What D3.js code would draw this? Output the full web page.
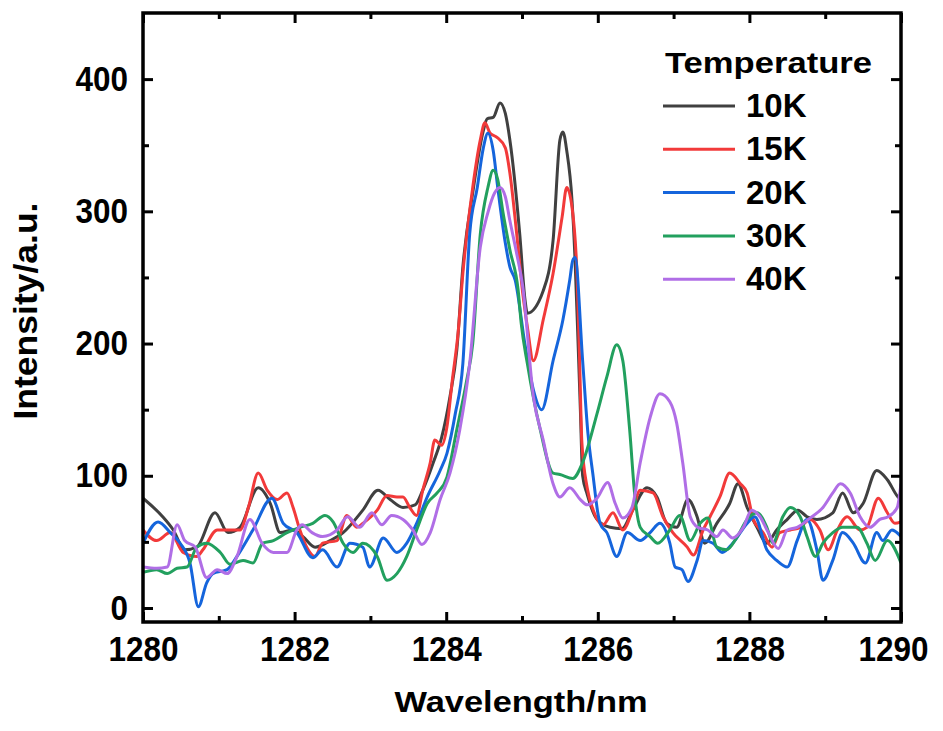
<!DOCTYPE html>
<html>
<head>
<meta charset="utf-8">
<script src="https://cdn.jsdelivr.net/npm/d3@7"></script>
<style>
  body { margin: 0; background: #fff; }
  svg text { font-family: "Liberation Sans", Arial, sans-serif; font-weight: bold; fill: #000; }
</style>
</head>
<body>
<div id="chart"></div>
<script>
// spectra: [wavelength nm, intensity a.u.]
const t10K = [[1280.00,83],[1280.26,69],[1280.40,59],[1280.55,44],[1280.71,46],[1280.95,72],[1281.12,57],[1281.28,61],[1281.52,91],[1281.68,79],[1281.81,57],[1281.98,59],[1282.11,54],[1282.27,46],[1282.47,51],[1282.64,57],[1282.90,74],[1283.10,89],[1283.26,82],[1283.43,76],[1283.59,78],[1283.69,89],[1283.83,110],[1283.94,129],[1284.05,160],[1284.14,195],[1284.22,258],[1284.35,314],[1284.49,361],[1284.54,370],[1284.62,371],[1284.71,382],[1284.78,374],[1284.84,354],[1284.97,283],[1285.04,233],[1285.07,223],[1285.28,240],[1285.41,278],[1285.50,354],[1285.54,360],[1285.59,346],[1285.66,308],[1285.70,263],[1285.74,200],[1285.77,150],[1285.80,100],[1285.86,86],[1285.99,67],[1286.16,61],[1286.32,60],[1286.46,74],[1286.65,91],[1286.78,84],[1286.91,64],[1287.04,61],[1287.19,82],[1287.31,69],[1287.41,49],[1287.57,64],[1287.74,79],[1287.85,94],[1287.97,76],[1288.10,61],[1288.23,49],[1288.36,59],[1288.50,67],[1288.64,74],[1288.76,69],[1288.89,67],[1289.10,72],[1289.23,87],[1289.37,72],[1289.50,79],[1289.68,104],[1289.82,97],[1289.96,84],[1290.00,82]];

const t15K = [[1280.00,59],[1280.18,51],[1280.36,57],[1280.53,42],[1280.71,39],[1280.79,44],[1280.98,59],[1281.15,59],[1281.28,59],[1281.39,76],[1281.52,102],[1281.64,89],[1281.77,82],[1281.90,87],[1281.98,76],[1282.07,59],[1282.16,46],[1282.27,39],[1282.37,49],[1282.56,51],[1282.69,70],[1282.82,61],[1282.90,64],[1283.09,74],[1283.22,85],[1283.35,84],[1283.43,84],[1283.52,76],[1283.61,70],[1283.69,89],[1283.79,110],[1283.85,127],[1283.94,123],[1284.01,137],[1284.08,172],[1284.16,210],[1284.22,253],[1284.35,318],[1284.45,354],[1284.51,367],[1284.58,359],[1284.67,356],[1284.78,348],[1284.84,329],[1284.93,283],[1285.01,238],[1285.07,213],[1285.15,187],[1285.28,218],[1285.41,253],[1285.53,296],[1285.59,318],[1285.66,303],[1285.73,246],[1285.76,187],[1285.79,125],[1285.86,91],[1285.94,74],[1286.07,63],[1286.20,72],[1286.33,59],[1286.46,74],[1286.56,89],[1286.73,87],[1286.86,69],[1286.99,57],[1287.18,46],[1287.26,40],[1287.39,59],[1287.48,69],[1287.61,84],[1287.74,102],[1287.88,94],[1287.97,87],[1288.05,67],[1288.18,57],[1288.30,46],[1288.40,57],[1288.54,59],[1288.67,61],[1288.80,67],[1288.93,59],[1289.04,44],[1289.16,59],[1289.29,69],[1289.46,59],[1289.55,61],[1289.70,83],[1289.82,72],[1289.92,64],[1290.00,65]];

const t20K = [[1280.00,49],[1280.20,65],[1280.36,57],[1280.49,49],[1280.62,34],[1280.73,1],[1280.84,19],[1280.92,26],[1281.11,29],[1281.24,39],[1281.45,59],[1281.70,83],[1281.85,64],[1282.03,57],[1282.24,38],[1282.37,44],[1282.56,31],[1282.73,49],[1282.90,46],[1282.99,31],[1283.17,53],[1283.35,42],[1283.48,49],[1283.61,64],[1283.75,84],[1283.92,104],[1284.01,117],[1284.12,147],[1284.22,185],[1284.31,283],[1284.41,318],[1284.49,348],[1284.55,359],[1284.62,346],[1284.68,318],[1284.78,276],[1284.84,258],[1284.91,248],[1285.04,199],[1285.15,165],[1285.26,150],[1285.41,187],[1285.54,218],[1285.63,248],[1285.67,263],[1285.70,265],[1285.80,187],[1285.87,132],[1285.94,99],[1286.00,72],[1286.03,64],[1286.12,57],[1286.25,39],[1286.39,57],[1286.56,51],[1286.69,57],[1286.82,64],[1286.95,49],[1287.02,31],[1287.11,29],[1287.19,20],[1287.31,36],[1287.39,51],[1287.52,49],[1287.64,42],[1287.78,49],[1287.97,64],[1288.07,69],[1288.23,44],[1288.36,36],[1288.50,31],[1288.63,51],[1288.76,67],[1288.89,44],[1288.97,21],[1289.10,36],[1289.23,57],[1289.37,49],[1289.53,34],[1289.68,57],[1289.76,51],[1289.88,59],[1290.00,54]];

const t30K = [[1280.00,27],[1280.18,29],[1280.32,26],[1280.45,30],[1280.58,31],[1280.71,46],[1280.84,49],[1281.02,42],[1281.15,33],[1281.32,36],[1281.45,34],[1281.58,49],[1281.72,51],[1281.90,57],[1282.07,61],[1282.24,64],[1282.40,70],[1282.51,65],[1282.64,49],[1282.77,42],[1282.90,49],[1283.09,39],[1283.22,21],[1283.35,26],[1283.48,39],[1283.61,59],[1283.75,79],[1283.88,87],[1284.01,99],[1284.14,135],[1284.27,172],[1284.35,200],[1284.45,283],[1284.55,318],[1284.62,331],[1284.68,324],[1284.75,299],[1284.84,271],[1284.95,240],[1284.99,215],[1285.07,185],[1285.24,135],[1285.41,102],[1285.50,101],[1285.67,98],[1285.80,110],[1285.99,147],[1286.12,175],[1286.25,199],[1286.33,187],[1286.42,135],[1286.49,84],[1286.56,61],[1286.69,54],[1286.79,49],[1286.95,59],[1287.08,70],[1287.22,51],[1287.35,64],[1287.45,68],[1287.57,46],[1287.70,44],[1287.84,54],[1287.97,67],[1288.10,72],[1288.23,61],[1288.31,49],[1288.44,69],[1288.54,76],[1288.67,69],[1288.76,54],[1288.87,39],[1288.97,49],[1289.10,57],[1289.23,61],[1289.42,61],[1289.55,49],[1289.66,36],[1289.82,51],[1290.00,34]];

const t40K = [[1280.00,31],[1280.18,30],[1280.32,31],[1280.45,63],[1280.55,51],[1280.69,46],[1280.84,23],[1280.98,29],[1281.11,26],[1281.24,39],[1281.41,67],[1281.57,49],[1281.72,42],[1281.90,42],[1282.03,59],[1282.10,63],[1282.23,57],[1282.37,54],[1282.56,59],[1282.70,69],[1282.86,61],[1283.02,72],[1283.15,63],[1283.28,70],[1283.43,67],[1283.56,59],[1283.68,48],[1283.79,57],[1283.92,82],[1284.05,102],[1284.18,135],[1284.31,185],[1284.45,273],[1284.55,299],[1284.64,314],[1284.71,318],[1284.78,311],[1284.84,293],[1284.93,268],[1285.01,243],[1285.15,160],[1285.28,127],[1285.41,94],[1285.50,84],[1285.63,91],[1285.77,82],[1285.86,78],[1285.99,83],[1286.13,95],[1286.23,79],[1286.33,68],[1286.45,76],[1286.56,110],[1286.69,144],[1286.82,162],[1286.95,156],[1287.04,140],[1287.12,110],[1287.22,69],[1287.32,61],[1287.45,59],[1287.57,54],[1287.65,59],[1287.78,53],[1287.92,61],[1288.03,74],[1288.14,69],[1288.25,57],[1288.38,45],[1288.50,59],[1288.63,61],[1288.80,68],[1288.97,76],[1289.10,87],[1289.20,94],[1289.33,87],[1289.46,69],[1289.59,61],[1289.72,67],[1289.83,69],[1289.95,76],[1290.00,94]];

const temps = ["10K", "15K", "20K", "30K", "40K"];
const spectra = [t10K, t15K, t20K, t30K, t40K];
const colors = ["#404040", "#f23a3a", "#1565dc", "#22a05e", "#b06ee6"];

const xMajor = [1280, 1282, 1284, 1286, 1288, 1290];
const xMinor = [1281, 1283, 1285, 1287, 1289];
const yMajor = [0, 100, 200, 300, 400];
const yMinor = [50, 150, 250, 350];

const width = 943, height = 731;
const plotL = 143, plotR = 901, plotT = 13, plotB = 622;

const svg = d3.select("#chart").append("svg")
    .attr("width", width)
    .attr("height", height);

const x = d3.scaleLinear().domain([1280, 1290]).range([plotL, plotR]);
const y = d3.scaleLinear().domain([-10.6, 450]).range([plotB, plotT]);

svg.append("clipPath").attr("id", "plotClip")
    .append("rect")
    .attr("x", plotL).attr("y", plotT)
    .attr("width", plotR - plotL).attr("height", plotB - plotT);

// curves
const line = d3.line()
    .x(d => x(d[0]))
    .y(d => y(d[1]))
    .curve(d3.curveMonotoneX);

svg.append("g").attr("clip-path", "url(#plotClip)")
    .selectAll("path")
    .data(spectra)
    .enter()
    .append("path")
    .attr("d", line)
    .attr("fill", "none")
    .attr("stroke", (d, i) => colors[i])
    .attr("stroke-width", 3)
    .attr("stroke-linejoin", "round");

// axes, ticks pointing inward on all four sides
function styleAxis(g) {
    g.select(".domain").remove();
    g.selectAll(".tick line").attr("stroke", "#000").attr("stroke-width", 3);
    // tick digits are a bit narrow and tall in the original
    g.selectAll(".tick text")
        .style("font-size", "35px")
        .attr("lengthAdjust", "spacingAndGlyphs")
        .attr("textLength", function () { return this.textContent.length * 17.5; });
}

const gx = svg.append("g").attr("transform", `translate(0,${plotB})`)
    .call(d3.axisBottom(x).tickValues(xMajor).tickSize(-10).tickPadding(14).tickFormat(d3.format("d")))
    .call(styleAxis);
// last label sits a little left of its tick in the original, inside the figure edge
gx.selectAll(".tick text").filter(d => d === 1290).attr("dx", -8);

svg.append("g").attr("transform", `translate(0,${plotB})`)
    .call(d3.axisBottom(x).tickValues(xMinor).tickSize(-6).tickFormat(""))
    .call(styleAxis);

svg.append("g").attr("transform", `translate(0,${plotT})`)
    .call(d3.axisTop(x).tickValues(xMajor).tickSize(-10).tickFormat(""))
    .call(styleAxis);
svg.append("g").attr("transform", `translate(0,${plotT})`)
    .call(d3.axisTop(x).tickValues(xMinor).tickSize(-6).tickFormat(""))
    .call(styleAxis);

svg.append("g").attr("transform", `translate(${plotL},0)`)
    .call(d3.axisLeft(y).tickValues(yMajor).tickSize(-10).tickPadding(15))
    .call(styleAxis);
svg.append("g").attr("transform", `translate(${plotL},0)`)
    .call(d3.axisLeft(y).tickValues(yMinor).tickSize(-6).tickFormat(""))
    .call(styleAxis);

svg.append("g").attr("transform", `translate(${plotR},0)`)
    .call(d3.axisRight(y).tickValues(yMajor).tickSize(-10).tickFormat(""))
    .call(styleAxis);
svg.append("g").attr("transform", `translate(${plotR},0)`)
    .call(d3.axisRight(y).tickValues(yMinor).tickSize(-6).tickFormat(""))
    .call(styleAxis);

// frame
svg.append("rect")
    .attr("x", plotL).attr("y", plotT)
    .attr("width", plotR - plotL).attr("height", plotB - plotT)
    .attr("fill", "none")
    .attr("stroke", "#000")
    .attr("stroke-width", 3.5);

// axis titles
svg.append("text")
    .attr("x", 521)
    .attr("y", 712)
    .attr("text-anchor", "middle")
    .attr("textLength", 253)
    .attr("lengthAdjust", "spacingAndGlyphs")
    .style("font-size", "29px")
    .text("Wavelength/nm");

svg.append("text")
    .attr("transform", "translate(37,311) rotate(-90)")
    .attr("text-anchor", "middle")
    .attr("textLength", 217)
    .attr("lengthAdjust", "spacingAndGlyphs")
    .style("font-size", "33px")
    .text("Intensity/a.u.");

// legend
const legend = svg.append("g");
legend.append("text")
    .attr("x", 665)
    .attr("y", 73)
    .attr("textLength", 207)
    .attr("lengthAdjust", "spacingAndGlyphs")
    .style("font-size", "30px")
    .text("Temperature");

const rows = legend.selectAll(".row")
    .data(temps)
    .enter()
    .append("g")
    .attr("class", "row")
    .attr("transform", (d, i) => `translate(0,${106 + i * 43.3})`);

rows.append("line")
    .attr("x1", 663).attr("x2", 735)
    .attr("stroke", (d, i) => colors[i])
    .attr("stroke-width", 3);

rows.append("text")
    .attr("x", 746)
    .attr("y", 11)
    .style("font-size", "33px")
    .text(d => d);
</script>
</body>
</html>
